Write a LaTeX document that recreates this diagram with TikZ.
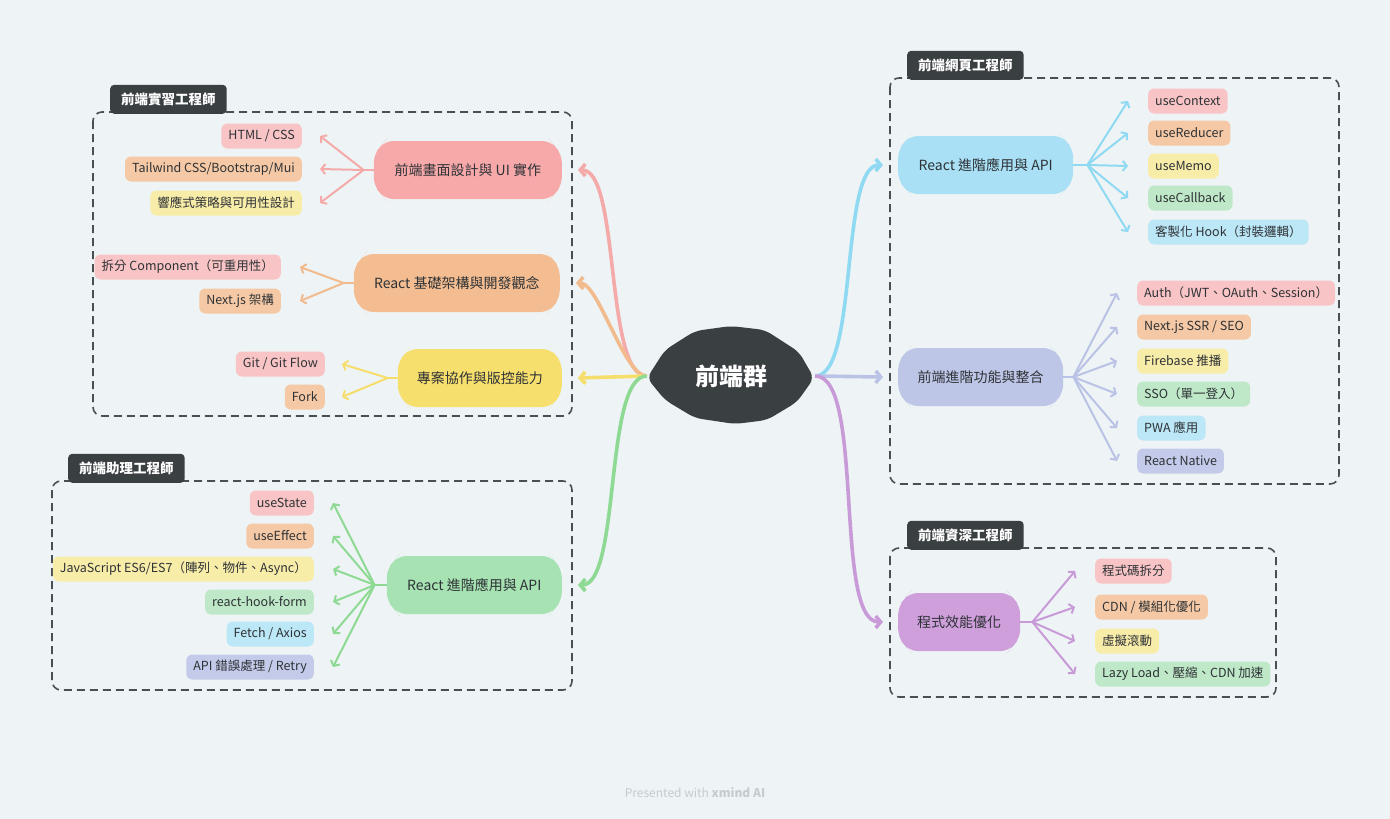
\documentclass[tikz,border=0pt]{standalone}
\usepackage{fontspec}
\setmainfont{Noto Sans CJK TC}
\usetikzlibrary{shapes.misc, arrows.meta, positioning}

\definecolor{bgcol}{HTML}{EEF4F5}
\definecolor{rootgray}{HTML}{3A3F42}
\definecolor{boxgray}{HTML}{4A4F52}
\definecolor{ink}{HTML}{2E3236}
\definecolor{footgray}{HTML}{C5CBCE}
% topic fills
\definecolor{pinkT}{HTML}{F7A9AA}
\definecolor{orangeT}{HTML}{F3BD91}
\definecolor{yellowT}{HTML}{F7DF6E}
\definecolor{greenT}{HTML}{A6E2B2}
\definecolor{blueT}{HTML}{A9E0F5}
\definecolor{lavT}{HTML}{BEC6E7}
\definecolor{purpleT}{HTML}{CF9FDC}
% leaf fills
\definecolor{pinkL}{HTML}{F8C4C5}
\definecolor{orangeL}{HTML}{F5C9A5}
\definecolor{yellowL}{HTML}{F8ECA9}
\definecolor{greenL}{HTML}{BEE8C7}
\definecolor{blueL}{HTML}{BCE7F6}
\definecolor{lavL}{HTML}{C4CBEA}
% connector colours
\definecolor{pinkA}{HTML}{F5AAAA}
\definecolor{orangeA}{HTML}{F2BB8E}
\definecolor{yellowA}{HTML}{F6DE6C}
\definecolor{greenA}{HTML}{8ED993}
\definecolor{blueA}{HTML}{90D9F3}
\definecolor{lavA}{HTML}{BAC3E5}
\definecolor{purpleA}{HTML}{C89BD8}

\begin{document}
\begin{tikzpicture}[
    x=1pt, y=-1pt,
    root/.style={rectangle, inner sep=0pt, text=white, font=\fontsize{24}{28}\selectfont\bfseries, minimum width=168pt, minimum height=98pt},
    topic/.style={chamfered rectangle, chamfered rectangle xsep=14pt, chamfered rectangle angle=40, rounded corners=8pt, text=ink, font=\fontsize{14}{17}\selectfont, minimum height=58pt},
    leaf/.style={rectangle, rounded corners=6pt, text=ink, font=\fontsize{12.5}{15}\selectfont, minimum height=25pt, inner xsep=7pt, inner ysep=0pt},
    tab/.style={rectangle, rounded corners=4pt, anchor=south west, fill=rootgray, text=white, font=\fontsize{13.5}{16}\selectfont\bfseries, minimum height=29pt, inner xsep=11pt, inner ysep=0pt},
    group/.style={draw=boxgray, line width=1.6pt, dash pattern=on 8pt off 5pt, rounded corners=9pt},
    branch/.style={line width=3.6pt, -{Straight Barb[length=5pt,width=12pt]}, looseness=0.5},
    stem/.style={line width=2pt},
    twig/.style={line width=2pt, -{Straight Barb[length=4pt,width=10pt]}}
]
\fill[bgcol] (0,0) rectangle (1390,819);
\useasboundingbox (0,0) rectangle (1390,819);

% dashed groups with their tabs
\draw[group] (93,112) rectangle (572,416);
\draw[group] (52,481) rectangle (572,690);
\draw[group] (890,78) rectangle (1339,484);
\draw[group] (890,548) rectangle (1276,697);
\node[tab] (tabIntern) at (110,114) {前端實習工程師};
\node[tab] (tabAssist) at (68,483) {前端助理工程師};
\node[tab] (tabWeb) at (907,80) {前端網頁工程師};
\node[tab] (tabSenior) at (907,550) {前端資深工程師};

% central topic: hand-drawn blob behind the label
\coordinate (rootC) at (731,376);
\fill[rootgray, rounded corners=7pt] (rootC) ++(-84,2) -- ++(18,-28) -- ++(30,-19) -- ++(36,-5)
    -- ++(34,4) -- ++(34,22) -- ++(15,26) -- ++(-17,24) -- ++(-30,18) -- ++(-32,4)
    -- ++(-40,-6) -- ++(-30,-18) -- cycle;
\node[root] (root) at (rootC) {前端群};

% main topics
\node[topic, fill=pinkT, minimum width=188pt, anchor=east] (ui) at (562,170) {前端畫面設計與 UI 實作};
\node[topic, fill=orangeT, minimum width=206pt, anchor=east] (arch) at (560,283) {React 基礎架構與開發觀念};
\node[topic, fill=yellowT, minimum width=164pt, anchor=east] (git) at (562,378) {專案協作與版控能力};
\node[topic, fill=greenT, minimum width=175pt, anchor=east] (basic) at (562,585) {React 進階應用與 API};
\node[topic, fill=blueT, minimum width=175pt, anchor=west] (hooks) at (898,165) {React 進階應用與 API};
\node[topic, fill=lavT, minimum width=165pt, anchor=west] (feat) at (898,377) {前端進階功能與整合};
\node[topic, fill=purpleT, minimum width=122pt, anchor=west] (perf) at (898,622) {程式效能優化};

% leaves, left side
\node[leaf, fill=pinkL, anchor=east] (ui1) at (302,136) {HTML / CSS};
\node[leaf, fill=orangeL, anchor=east] (ui2) at (302,169) {Tailwind CSS/Bootstrap/Mui};
\node[leaf, fill=yellowL, anchor=east] (ui3) at (302,203) {響應式策略與可用性設計};
\node[leaf, fill=pinkL, anchor=east] (arch1) at (281,267) {拆分 Component（可重用性）};
\node[leaf, fill=orangeL, anchor=east] (arch2) at (281,301) {Next.js 架構};
\node[leaf, fill=pinkL, anchor=east] (git1) at (325,364) {Git / Git Flow};
\node[leaf, fill=orangeL, anchor=east] (git2) at (325,397) {Fork};
\node[leaf, fill=pinkL, anchor=east] (basic1) at (314,503) {useState};
\node[leaf, fill=orangeL, anchor=east] (basic2) at (314,536) {useEffect};
\node[leaf, fill=yellowL, anchor=east] (basic3) at (314,569) {JavaScript ES6/ES7（陣列、物件、Async）};
\node[leaf, fill=greenL, anchor=east] (basic4) at (314,602) {react-hook-form};
\node[leaf, fill=blueL, anchor=east] (basic5) at (314,634) {Fetch / Axios};
\node[leaf, fill=lavL, anchor=east] (basic6) at (314,667) {API 錯誤處理 / Retry};

% leaves, right side
\node[leaf, fill=pinkL, anchor=west] (hooks1) at (1148,101) {useContext};
\node[leaf, fill=orangeL, anchor=west] (hooks2) at (1148,133) {useReducer};
\node[leaf, fill=yellowL, anchor=west] (hooks3) at (1148,166) {useMemo};
\node[leaf, fill=greenL, anchor=west] (hooks4) at (1148,198) {useCallback};
\node[leaf, fill=blueL, anchor=west] (hooks5) at (1148,232) {客製化 Hook（封裝邏輯）};
\node[leaf, fill=pinkL, anchor=west] (feat1) at (1137,293) {Auth（JWT、OAuth、Session）};
\node[leaf, fill=orangeL, anchor=west] (feat2) at (1137,327) {Next.js SSR / SEO};
\node[leaf, fill=yellowL, anchor=west] (feat3) at (1137,361) {Firebase 推播};
\node[leaf, fill=greenL, anchor=west] (feat4) at (1137,394) {SSO（單一登入）};
\node[leaf, fill=blueL, anchor=west] (feat5) at (1137,428) {PWA 應用};
\node[leaf, fill=lavL, anchor=west] (feat6) at (1137,461) {React Native};
\node[leaf, fill=pinkL, anchor=west] (perf1) at (1095,571) {程式碼拆分};
\node[leaf, fill=orangeL, anchor=west] (perf2) at (1095,607) {CDN / 模組化優化};
\node[leaf, fill=yellowL, anchor=west] (perf3) at (1095,641) {虛擬滾動};
\node[leaf, fill=greenL, anchor=west] (perf4) at (1095,674) {Lazy Load、壓縮、CDN 加速};

% junctions beside each topic
\coordinate (uiJ) at ([xshift=-10pt]ui.west);
\coordinate (archJ) at ([xshift=-10pt]arch.west);
\coordinate (gitJ) at ([xshift=-10pt]git.west);
\coordinate (basicJ) at ([xshift=-12pt]basic.west);
\coordinate (hooksJ) at ([xshift=14pt]hooks.east);
\coordinate (featJ) at ([xshift=10pt]feat.east);
\coordinate (perfJ) at ([xshift=12pt]perf.east);

% main branches
\draw[branch, pinkA] (root.west) to[out=180, in=0] ([xshift=16pt]ui.east);
\draw[branch, orangeA] (root.west) to[out=180, in=0] ([xshift=16pt]arch.east);
\draw[branch, yellowA] (root.west) -- ([xshift=16pt]git.east);
\draw[branch, greenA] (root.west) to[out=180, in=0] ([xshift=16pt]basic.east);
\draw[branch, blueA] (root.east) to[out=0, in=180] ([xshift=-15pt]hooks.west);
\draw[branch, lavA] (root.east) -- ([xshift=-15pt]feat.west);
\draw[branch, purpleA] (root.east) to[out=0, in=180] ([xshift=-15pt]perf.west);

% twigs, left side
\draw[stem, pinkA] (ui.west) -- (uiJ);
\draw[twig, pinkA] (uiJ) -- ([xshift=18pt]ui1.east);
\draw[twig, pinkA] (uiJ) -- ([xshift=18pt]ui2.east);
\draw[twig, pinkA] (uiJ) -- ([xshift=18pt]ui3.east);
\draw[stem, orangeA] (arch.west) -- (archJ);
\draw[twig, orangeA] (archJ) -- ([xshift=19pt]arch1.east);
\draw[twig, orangeA] (archJ) -- ([xshift=19pt]arch2.east);
\draw[stem, yellowA] (git.west) -- (gitJ);
\draw[twig, yellowA] (gitJ) -- ([xshift=17pt]git1.east);
\draw[twig, yellowA] (gitJ) -- ([xshift=17pt]git2.east);
\draw[stem, greenA] (basic.west) -- (basicJ);
\draw[twig, greenA] (basicJ) -- ([xshift=19pt]basic1.east);
\draw[twig, greenA] (basicJ) -- ([xshift=19pt]basic2.east);
\draw[twig, greenA] (basicJ) -- ([xshift=19pt]basic3.east);
\draw[twig, greenA] (basicJ) -- ([xshift=19pt]basic4.east);
\draw[twig, greenA] (basicJ) -- ([xshift=19pt]basic5.east);
\draw[twig, greenA] (basicJ) -- ([xshift=19pt]basic6.east);

% twigs, right side
\draw[stem, blueA] (hooks.east) -- (hooksJ);
\draw[twig, blueA] (hooksJ) -- ([xshift=-20pt]hooks1.west);
\draw[twig, blueA] (hooksJ) -- ([xshift=-20pt]hooks2.west);
\draw[twig, blueA] (hooksJ) -- ([xshift=-20pt]hooks3.west);
\draw[twig, blueA] (hooksJ) -- ([xshift=-20pt]hooks4.west);
\draw[twig, blueA] (hooksJ) -- ([xshift=-20pt]hooks5.west);
\draw[stem, lavA] (feat.east) -- (featJ);
\draw[twig, lavA] (featJ) -- ([xshift=-20pt]feat1.west);
\draw[twig, lavA] (featJ) -- ([xshift=-20pt]feat2.west);
\draw[twig, lavA] (featJ) -- ([xshift=-20pt]feat3.west);
\draw[twig, lavA] (featJ) -- ([xshift=-20pt]feat4.west);
\draw[twig, lavA] (featJ) -- ([xshift=-20pt]feat5.west);
\draw[twig, lavA] (featJ) -- ([xshift=-20pt]feat6.west);
\draw[stem, purpleA] (perf.east) -- (perfJ);
\draw[twig, purpleA] (perfJ) -- ([xshift=-20pt]perf1.west);
\draw[twig, purpleA] (perfJ) -- ([xshift=-20pt]perf2.west);
\draw[twig, purpleA] (perfJ) -- ([xshift=-20pt]perf3.west);
\draw[twig, purpleA] (perfJ) -- ([xshift=-20pt]perf4.west);

% footer
\node[text=footgray, font=\fontsize{12}{14}\selectfont] (credit) at (695,793) {Presented with \textbf{xmind AI}};
\end{tikzpicture}
\end{document}
